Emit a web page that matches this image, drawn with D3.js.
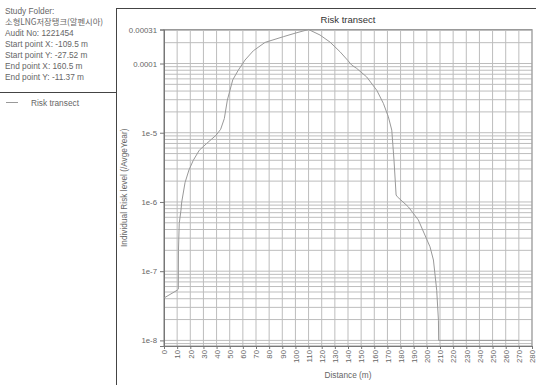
<!DOCTYPE html>
<html>
<head>
<meta charset="utf-8">
<script src="https://cdn.jsdelivr.net/npm/d3@7"></script>
<style>
  body { margin: 0; background: #fff; }
  svg { display: block; font-family: "Liberation Sans", Arial, sans-serif; }
</style>
</head>
<body>
<div id="chart"></div>
<script>
// info panel text
var infoLines = [
    "Study Folder:",
    "소형LNG저장탱크(알펜시아)",
    "Audit No: 1221454",
    "Start point X: -109.5 m",
    "Start point Y: -27.52 m",
    "End point X: 160.5 m",
    "End point Y: -11.37 m"
];
var seriesName = "Risk transect";

// risk transect (distance in m, individual risk /AvgeYear)
var distance = [0, 10, 10.9, 11.0, 11.6, 12.9, 13.5, 16, 19, 22.3, 26.9, 32.5, 39.6, 43.1, 45.9,
    48.2, 52.3, 56.5, 61.6, 68, 76.9, 90.8, 100, 110, 118.7, 126.3, 133.9, 140, 142.8, 146.6,
    154.2, 161.9, 166.9, 170.7, 173.3, 175, 176.6, 177.5, 185.9, 193.5, 202.4, 205, 207.5, 208.8,
    209, 270];
var risk = [4.1e-8, 5.3e-8, 5.5e-8, 2.0e-7, 4.9e-7, 7.6e-7, 1.0e-6, 1.9e-6, 2.9e-6, 4.0e-6, 5.6e-6, 7.0e-6, 9.2e-6, 1.12e-5, 1.6e-5,
    2.96e-5, 5.8e-5, 8.0e-5, 1.12e-4, 1.53e-4, 2.02e-4, 2.44e-4, 2.75e-4, 3.1e-4, 2.58e-4, 2.04e-4, 1.48e-4, 1.1e-4, 9.5e-5, 8.5e-5,
    6.4e-5, 4.1e-5, 2.66e-5, 1.7e-5, 1.09e-5, 4.0e-6, 1.26e-6, 1.19e-6, 8.5e-7, 5.5e-7, 2.25e-7, 1.45e-7, 5.3e-8, 1.96e-8,
    1.0e-8, 1.0e-8];

var yTickValues = [3.1e-4, 1e-4, 1e-5, 1e-6, 1e-7, 1e-8];
var yTickLabels = ["0.00031", "0.0001", "1e-5", "1e-6", "1e-7", "1e-8"];
var xTicks = d3.range(0, 281, 10);

var W = 536, H = 385;
var margin = { top: 29.5, right: 4, bottom: 39, left: 164 },
    width = W - margin.left - margin.right,
    height = H - margin.top - margin.bottom;

var svg = d3.select("#chart")
    .append("svg")
    .attr("width", W)
    .attr("height", H);

// frame lines of the report layout
svg.append("line").attr("x1", 116.5).attr("x2", 116.5).attr("y1", 8).attr("y2", H)
    .attr("stroke", "#444").attr("stroke-width", 1);
svg.append("line").attr("x1", 116.5).attr("x2", W).attr("y1", 8.5).attr("y2", 8.5)
    .attr("stroke", "#444").attr("stroke-width", 1);
svg.append("line").attr("x1", 0).attr("x2", 116.5).attr("y1", 92.5).attr("y2", 92.5)
    .attr("stroke", "#444").attr("stroke-width", 1);

// info text
svg.append("g").selectAll("text")
    .data(infoLines)
    .enter()
    .append("text")
    .attr("x", 5)
    .attr("y", function (d, i) { return 13.5 + i * 11 })
    .attr("font-size", "8.3px")
    .attr("fill", "#666")
    .style("font-family", function (d, i) { return i == 1 ? "'Noto Sans CJK KR', sans-serif" : null })
    .text(function (d) { return d });

// legend
svg.append("line").attr("x1", 6).attr("x2", 18).attr("y1", 102.5).attr("y2", 102.5)
    .attr("stroke", "#999").attr("stroke-width", 1);
svg.append("text").attr("x", 31).attr("y", 105.5)
    .attr("font-size", "8.3px").attr("fill", "#666").text(seriesName);

var g = svg.append("g")
    .attr("transform", "translate(" + margin.left + "," + margin.top + ")");

var x = d3.scaleLinear().domain([0, 280]).range([0, width]);
var y = d3.scaleLog().domain([8.3e-9, 3.1e-4]).range([height, 0]);

// horizontal grid at log minor values
var minor = [];
for (var e = -9; e <= -4; e++) {
    for (var m = 1; m <= 9; m++) {
        var v = m * Math.pow(10, e);
        if (v >= 8.3e-9 && v <= 3.1e-4) minor.push(v);
    }
}
g.append("g").selectAll("line")
    .data(minor)
    .enter()
    .append("line")
    .attr("x1", 0).attr("x2", width)
    .attr("y1", function (d) { return y(d) }).attr("y2", function (d) { return y(d) })
    .attr("stroke", "#bdbdbd").attr("stroke-width", 1);

// vertical grid
g.append("g").selectAll("line")
    .data(xTicks)
    .enter()
    .append("line")
    .attr("x1", function (d) { return x(d) }).attr("x2", function (d) { return x(d) })
    .attr("y1", 0).attr("y2", height)
    .attr("stroke", "#bdbdbd").attr("stroke-width", 1);

// plot frame
g.append("rect").attr("x", 0).attr("y", 0).attr("width", width).attr("height", height)
    .attr("fill", "none").attr("stroke", "#999");

// y axis
var yAxis = d3.axisLeft(y).tickValues(yTickValues).tickSize(4)
    .tickFormat(function (d, i) { return yTickLabels[i] });
var ya = g.append("g").call(yAxis);
ya.select(".domain").attr("stroke", "#777");
ya.selectAll(".tick line").attr("stroke", "#777");
ya.selectAll("text").attr("fill", "#666").attr("font-size", "7.8px")
    .attr("font-family", "Liberation Sans, Arial, sans-serif");

// x axis
var xAxis = d3.axisBottom(x).tickValues(xTicks).tickSize(3);
var xa = g.append("g").attr("transform", "translate(0," + height + ")").call(xAxis);
xa.select(".domain").attr("stroke", "#777");
xa.selectAll(".tick line").attr("stroke", "#777");
xa.selectAll("text")
    .attr("fill", "#666").attr("font-size", "7.8px")
    .attr("font-family", "Liberation Sans, Arial, sans-serif")
    .attr("transform", "rotate(-90)")
    .attr("text-anchor", "end")
    .attr("x", -4).attr("y", 0).attr("dy", "0.35em");

// curve
var pts = distance.map(function (d, i) { return [d, risk[i]] });
g.append("path")
    .datum(pts)
    .attr("fill", "none")
    .attr("stroke", "#999")
    .attr("stroke-width", 1)
    .attr("d", d3.line()
        .x(function (d) { return x(d[0]) })
        .y(function (d) { return y(d[1]) }));

// titles
svg.append("text")
    .attr("x", margin.left + width / 2).attr("y", 23)
    .attr("text-anchor", "middle").attr("font-size", "9.5px").attr("fill", "#333")
    .text("Risk transect");
svg.append("text")
    .attr("x", margin.left + width / 2).attr("y", 378)
    .attr("text-anchor", "middle").attr("font-size", "8.3px").attr("fill", "#666")
    .text("Distance (m)");
svg.append("text")
    .attr("transform", "translate(127," + (margin.top + height / 2) + ") rotate(-90)")
    .attr("text-anchor", "middle").attr("font-size", "8.3px").attr("fill", "#666")
    .text("Individual Risk level (/AvgeYear)");
</script>
</body>
</html>
